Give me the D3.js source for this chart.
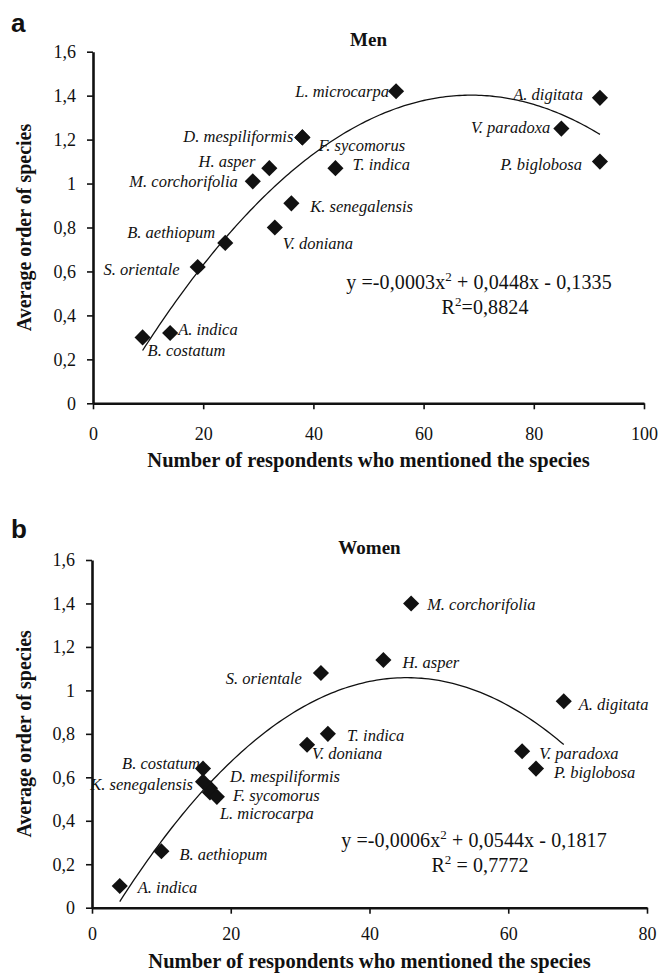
<!DOCTYPE html>
<html>
<head>
<meta charset="utf-8">
<script src="https://cdn.jsdelivr.net/npm/d3@7"></script>
<style>
  body { margin: 0; background: #fff; }
  svg { display: block; }
  text { font-family: "Liberation Serif", "Times New Roman", serif; fill: #111; }
</style>
</head>
<body>
<svg id="chart" width="658" height="973"></svg>
<script>
// ---- data ----
const menSpecies = ["B. costatum", "A. indica", "S. orientale", "B. aethiopum", "M. corchorifolia",
    "H. asper", "D. mespiliformis", "F. sycomorus", "K. senegalensis", "V. doniana",
    "T. indica", "L. microcarpa", "V. paradoxa", "A. digitata", "P. biglobosa"];
const menRespondents = [9, 14, 19, 24, 29, 32, 38, 38, 36, 33, 44, 55, 85, 92, 92];
const menOrder = [0.30, 0.32, 0.62, 0.73, 1.01, 1.07, 1.21, 1.21, 0.91, 0.80, 1.07, 1.42, 1.25, 1.39, 1.10];

const womenSpecies = ["A. indica", "B. aethiopum", "B. costatum", "K. senegalensis", "D. mespiliformis",
    "F. sycomorus", "L. microcarpa", "V. doniana", "T. indica", "S. orientale",
    "H. asper", "M. corchorifolia", "A. digitata", "V. paradoxa", "P. biglobosa"];
const womenRespondents = [4, 10, 16, 16, 17, 17, 18, 31, 34, 33, 42, 46, 68, 62, 64];
const womenOrder = [0.10, 0.26, 0.64, 0.58, 0.55, 0.53, 0.51, 0.75, 0.80, 1.08, 1.14, 1.40, 0.95, 0.72, 0.64];

const yTicks = [0, 0.2, 0.4, 0.6, 0.8, 1, 1.2, 1.4, 1.6];
const menXTicks = [0, 20, 40, 60, 80, 100];
const womenXTicks = [0, 20, 40, 60, 80];

const menEquation = ["y =-0,0003x", "2", " + 0,0448x - 0,1335"];
const menR2 = "=0,8824";
const womenEquation = ["y =-0,0006x", "2", " + 0,0544x - 0,1817"];
const womenR2 = " = 0,7772";

// label placement: [anchor, dx, dy] relative to the marker
const menLabelPos = {
    "B. costatum": ["start", 5, 19], "A. indica": ["start", 8, 2], "S. orientale": ["end", -18, 8],
    "B. aethiopum": ["end", -10, -5], "M. corchorifolia": ["end", -15, 6], "H. asper": ["end", -14, -1],
    "D. mespiliformis": ["end", -9, 5], "F. sycomorus": ["start", 16, 14], "K. senegalensis": ["start", 19, 9],
    "V. doniana": ["start", 8, 21], "T. indica": ["start", 17, 2], "L. microcarpa": ["end", -7, 6],
    "V. paradoxa": ["end", -11, 4], "A. digitata": ["end", -17, 2], "P. biglobosa": ["end", -18, 8]
};
const womenLabelPos = {
    "A. indica": ["start", 18, 7], "B. aethiopum": ["start", 18, 9], "B. costatum": ["end", -3, 0],
    "K. senegalensis": ["end", -10, 8], "D. mespiliformis": ["start", 20, -6], "F. sycomorus": ["start", 23, 8],
    "L. microcarpa": ["start", 3, 22], "V. doniana": ["start", 5, 14], "T. indica": ["start", 19, 7],
    "S. orientale": ["end", -19, 11], "H. asper": ["start", 19, 8], "M. corchorifolia": ["start", 16, 7],
    "A. digitata": ["start", 15, 9], "V. paradoxa": ["start", 17, 8], "P. biglobosa": ["start", 18, 9]
};

const svg = d3.select("#chart");

// least squares fit of y = a x^2 + b x + c (Excel polynomial trendline)
function quadFit(xs, ys) {
    let s = [0, 0, 0, 0, 0], t = [0, 0, 0];
    xs.forEach((x, i) => {
        for (let k = 0; k < 5; k++) s[k] += Math.pow(x, k);
        for (let k = 0; k < 3; k++) t[k] += ys[i] * Math.pow(x, k);
    });
    const m = [
        [s[0], s[1], s[2], t[0]],
        [s[1], s[2], s[3], t[1]],
        [s[2], s[3], s[4], t[2]]
    ];
    for (let i = 0; i < 3; i++) {
        for (let j = i + 1; j < 3; j++) {
            const f = m[j][i] / m[i][i];
            for (let k = i; k < 4; k++) m[j][k] -= f * m[i][k];
        }
    }
    const r = [0, 0, 0];
    for (let i = 2; i >= 0; i--) {
        let v = m[i][3];
        for (let k = i + 1; k < 3; k++) v -= m[i][k] * r[k];
        r[i] = v / m[i][i];
    }
    return x => r[0] + r[1] * x + r[2] * x * x;
}

const fmt = d => String(+d.toFixed(1)).replace(".", ",");

function drawPanel(p) {
    const x = d3.scaleLinear().domain([0, p.xMax]).range([p.left, p.right]);
    const y = d3.scaleLinear().domain([0, 1.6]).range([p.bottom, p.top]);
    const g = svg.append("g");

    // panel letter
    g.append("text")
        .attr("x", 11).attr("y", p.letterY)
        .style("font-family", "'Liberation Sans', Arial, sans-serif")
        .style("font-weight", "bold").style("font-size", "26px")
        .text(p.letter);

    // title
    g.append("text")
        .attr("x", (p.left + p.right) / 2).attr("y", p.top - 6)
        .attr("text-anchor", "middle")
        .style("font-weight", "bold").style("font-size", "19px")
        .text(p.title);

    // axes
    const yAxis = g.append("g")
        .attr("transform", `translate(${p.left},0)`)
        .call(d3.axisLeft(y).tickValues(yTicks).tickSize(6).tickSizeOuter(0).tickPadding(11).tickFormat(fmt));
    const xAxis = g.append("g")
        .attr("transform", `translate(0,${p.bottom})`)
        .call(d3.axisBottom(x).tickValues(p.xTicks).tickSize(6).tickSizeOuter(0).tickPadding(p.xPad).tickFormat(d => d));
    [yAxis, xAxis].forEach(a => {
        a.select(".domain").attr("stroke", "#111").attr("stroke-width", 2.6);
        a.selectAll(".tick line").attr("stroke", "#111").attr("stroke-width", 1.6);
        a.selectAll(".tick text")
            .style("font-family", "'Liberation Serif', 'Times New Roman', serif")
            .style("font-size", "18px").attr("fill", "#111");
    });

    // axis titles
    g.append("text")
        .attr("x", (p.left + p.right) / 2).attr("y", p.bottom + p.xLabelOff)
        .attr("text-anchor", "middle")
        .style("font-weight", "bold").style("font-size", "20.5px")
        .text("Number of respondents who mentioned the species");
    g.append("text")
        .attr("transform", `translate(31,${(p.top + p.bottom) / 2}) rotate(-90)`)
        .attr("text-anchor", "middle")
        .style("font-weight", "bold").style("font-size", "20px")
        .text("Average order of species");

    // trend line
    const fit = quadFit(p.xs, p.ys);
    const xr = d3.extent(p.xs);
    const curve = d3.range(xr[0], xr[1] + 0.001, 0.5);
    g.append("path")
        .datum(curve)
        .attr("fill", "none").attr("stroke", "#111").attr("stroke-width", 1.3)
        .attr("d", d3.line().x(d => x(d)).y(d => y(fit(d))));

    // markers
    const diamond = d3.symbol(d3.symbolSquare, 130);
    g.selectAll(".pt")
        .data(p.names)
        .enter()
        .append("path")
        .attr("class", "pt")
        .attr("d", diamond)
        .attr("transform", (d, i) => `translate(${x(p.xs[i])},${y(p.ys[i])}) rotate(45)`)
        .attr("fill", "#111");

    // species labels
    g.selectAll(".lbl")
        .data(p.names)
        .enter()
        .append("text")
        .attr("class", "lbl")
        .attr("x", (d, i) => x(p.xs[i]) + p.labelPos[d][1])
        .attr("y", (d, i) => y(p.ys[i]) + p.labelPos[d][2])
        .attr("text-anchor", d => p.labelPos[d][0])
        .style("font-style", "italic").style("font-size", "16.5px")
        .text(d => d);

    // equation
    const eq = g.append("text")
        .attr("x", p.eqX).attr("y", p.eqY)
        .attr("text-anchor", "middle")
        .style("font-size", "20px").style("letter-spacing", "0.1px");
    eq.append("tspan").text(p.eq[0]);
    eq.append("tspan").attr("dy", -8).style("font-size", "13px").text(p.eq[1]);
    eq.append("tspan").attr("dy", 8).text(p.eq[2]);
    const r2 = g.append("text")
        .attr("x", p.eqX + 6).attr("y", p.eqY + 25)
        .attr("text-anchor", "middle")
        .style("font-size", "20px").style("letter-spacing", "0.1px");
    r2.append("tspan").text("R");
    r2.append("tspan").attr("dy", -8).style("font-size", "13px").text("2");
    r2.append("tspan").attr("dy", 8).text(p.r2);
}

drawPanel({
    letter: "a", letterY: 32, title: "Men",
    left: 93, right: 644, top: 51.7, bottom: 403.3, xMax: 100, xTicks: menXTicks, xPad: 18, xLabelOff: 64,
    names: menSpecies, xs: menRespondents, ys: menOrder, labelPos: menLabelPos,
    eq: menEquation, r2: menR2, eqX: 479, eqY: 289
});

drawPanel({
    letter: "b", letterY: 538, title: "Women",
    left: 92, right: 647, top: 560, bottom: 907.7, xMax: 80, xTicks: womenXTicks, xPad: 14, xLabelOff: 60,
    names: womenSpecies, xs: womenRespondents, ys: womenOrder, labelPos: womenLabelPos,
    eq: womenEquation, r2: womenR2, eqX: 474, eqY: 846.7
});
</script>
</body>
</html>
